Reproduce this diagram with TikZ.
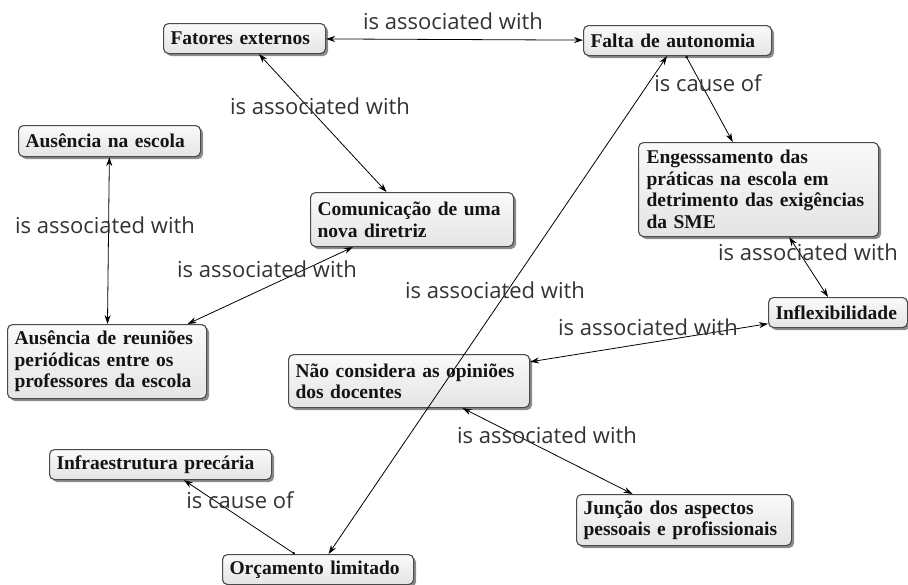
\documentclass[tikz,border=0pt]{standalone}
\usepackage{fontspec}
\setmainfont{Liberation Serif}
\newfontfamily\lblfont{Open Sans}
\usetikzlibrary{arrows.meta,shadows}

\definecolor{boxline}{HTML}{4A4A4A}
\definecolor{boxtop}{HTML}{FAFAFA}
\definecolor{boxbottom}{HTML}{E4E4E4}
\definecolor{lbltext}{HTML}{333333}
\definecolor{concepttext}{HTML}{141414}

\tikzset{
  concept/.style={
    draw=boxline, line width=1.1pt, rounded corners=5pt,
    top color=boxtop, bottom color=boxbottom,
    drop shadow={shadow xshift=2.5pt, shadow yshift=-2.5pt, fill=black, opacity=.45},
    anchor=north west, align=left, inner xsep=7pt, inner ysep=3pt,
    text=concepttext,
    font=\bfseries\fontsize{19.5}{21.5}\selectfont
  },
  linklabel/.style={text=lbltext, inner sep=0pt, font=\lblfont\fontsize{22}{26}\selectfont},
  link/.style={line width=0.8pt, black, {Stealth[length=9pt,width=6pt]}-{Stealth[length=9pt,width=6pt]}},
  onelink/.style={line width=0.8pt, black, {Circle[length=2.5pt]}-{Stealth[length=9pt,width=6pt]}}
}

\begin{document}
\begin{tikzpicture}[x=1pt,y=-1pt]
\useasboundingbox (0,0) rectangle (908,584);

% concepts
\node[concept, minimum width=162pt, minimum height=30pt, text width=148pt] (fatores) at (163,23) {Fatores externos};
\node[concept, minimum width=188pt, minimum height=30pt, text width=174pt] (falta) at (583,25) {Falta de autonomia};
\node[concept, minimum width=182pt, minimum height=31pt, text width=168pt] (ausencia) at (18,125) {Ausência na escola};
\node[concept, minimum width=203pt, minimum height=54pt, text width=189pt] (comunicacao) at (310,192) {Comunicação de uma\\nova diretriz};
\node[concept, minimum width=240pt, minimum height=94pt, text width=224pt, inner xsep=8pt] (engess) at (638,142) {Engesssamento das\\práticas na escola em\\detrimento das exigências\\da SME};
\node[concept, minimum width=139pt, minimum height=30pt, text width=125pt] (inflex) at (768,297) {Inflexibilidade};
\node[concept, minimum width=199pt, minimum height=74pt, text width=185pt] (reunioes) at (7,324) {Ausência de reuniões\\periódicas entre os\\professores da escola};
\node[concept, minimum width=241pt, minimum height=53pt, text width=227pt] (opinioes) at (288,354) {Não considera as opiniões\\dos docentes};
\node[concept, minimum width=222pt, minimum height=30pt, text width=208pt] (infra) at (49,449) {Infraestrutura precária};
\node[concept, minimum width=215pt, minimum height=51pt, text width=201pt] (juncao) at (576,494) {Junção dos aspectos\\pessoais e profissionais};
\node[concept, minimum width=191pt, minimum height=30pt, text width=177pt] (orcamento) at (222,554) {Orçamento limitado};

% connectors
\draw[link] (fatores) -- (falta);
\draw[link] (fatores) -- (comunicacao);
\draw[onelink] (falta) -- (engess);
\draw[link] (orcamento) -- (falta);
\draw[link] (ausencia) -- (reunioes);
\draw[link] (comunicacao) -- (reunioes);
\draw[link] (engess) -- (inflex);
\draw[link] (inflex) -- (opinioes);
\draw[link] (opinioes) -- (juncao);
\draw[onelink] (orcamento) -- (infra);

% link labels
\node[linklabel] (l1) at (453,21) {is associated with};
\node[linklabel] (l2) at (320,106) {is associated with};
\node[linklabel] (l3) at (708,83) {is cause of};
\node[linklabel] (l4) at (105,225) {is associated with};
\node[linklabel] (l5) at (267,269) {is associated with};
\node[linklabel] (l6) at (808,252) {is associated with};
\node[linklabel] (l7) at (495,290) {is associated with};
\node[linklabel] (l8) at (648,327) {is associated with};
\node[linklabel] (l9) at (547,435) {is associated with};
\node[linklabel] (l10) at (240,500) {is cause of};
\end{tikzpicture}
\end{document}
